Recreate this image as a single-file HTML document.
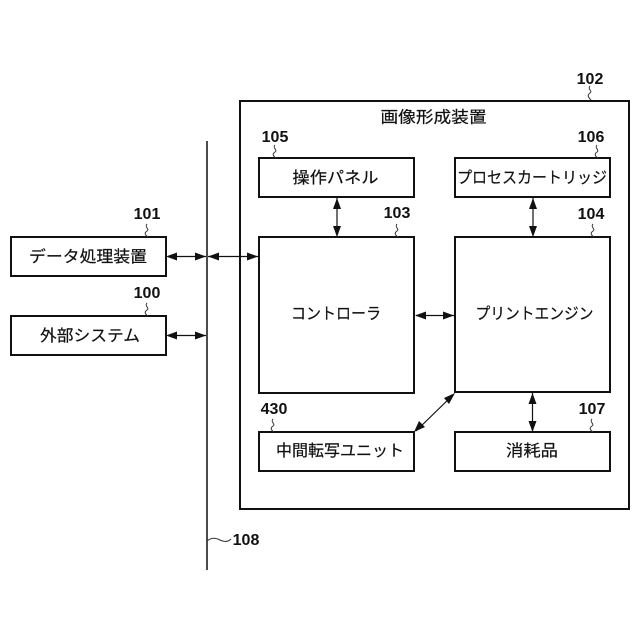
<!DOCTYPE html>
<html><head><meta charset="utf-8"><style>html,body{margin:0;padding:0;background:#fff;width:640px;height:640px;overflow:hidden}svg{display:block}
text.j{font-family:"Liberation Sans","Noto Sans CJK JP",sans-serif;font-size:16px;fill:#111;stroke:#111;stroke-width:.2;text-anchor:middle}
text.n{font-family:"Liberation Sans",sans-serif;font-size:16px;font-weight:bold;fill:#111;text-anchor:middle}
rect{fill:#fff;stroke:#111;stroke-width:2}
.l{stroke:#111;stroke-width:1.2;fill:none}.w{stroke:#333;stroke-width:1;fill:none}
polygon{fill:#111}</style></head><body>
<svg width="640" height="640" viewBox="0 0 640 640">
<rect x="240" y="101" width="389" height="408"/>
<rect x="11" y="237" width="155" height="39"/>
<rect x="11" y="316" width="155" height="39"/>
<rect x="259" y="158" width="155" height="39"/>
<rect x="455" y="158" width="155" height="39"/>
<rect x="259" y="237" width="155" height="156"/>
<rect x="455" y="237" width="155" height="155"/>
<rect x="259" y="432" width="155" height="39"/>
<rect x="455" y="432" width="155" height="39"/>
<path d="M207 141V570" stroke="#111" stroke-width="1.5" fill="none"/>

<path class="l" d="M168 256.500H206M208 256.500H258M168 335.500H206M337 198V236M533 198V236M416 315.500H454M532.500 393V431M416 431L454 394"/>
<polygon points="166,256.500 177,252.500 177,260.500"/><polygon points="206,256.500 195,252.500 195,260.500"/>
<polygon points="208,256.500 219,252.500 219,260.500"/><polygon points="258,256.500 247,252.500 247,260.500"/>
<polygon points="166,335.500 177,331.500 177,339.500"/><polygon points="206,335.500 195,331.500 195,339.500"/>
<polygon points="337,198 333,209 341,209"/><polygon points="337,237 333,226 341,226"/>
<polygon points="533,198 529,209 537,209"/><polygon points="533,237 529,226 537,226"/>
<polygon points="415,315.500 426,311.500 426,319.500"/><polygon points="454,315.500 443,311.500 443,319.500"/>
<polygon points="532.500,393 528.500,404 536.500,404"/><polygon points="532.500,432 528.500,421 536.500,421"/>
<polygon points="455,393 444,398 449,404"/><polygon points="414,432 419,421 425,427"/>

<path class="w" d="M147 224c-3 3 3 5 0 7s-2 4 1 6M147 303c-3 3 3 5 0 7s-2 4 1 6M590 86c-3 3 3 5 0 7s-2 4 1 7M275 145c-3 3 3 5 0 7s-2 4 1 6M597 145c-3 3 3 5 0 7s-2 4 1 6M397 224c-3 3 3 5 0 7s-2 4 1 6M593 224c-3 3 3 5 0 7s-2 4 1 6M273 419c-3 3 3 5 0 7s-2 4 1 6M592 419c-3 3 3 5 0 7s-2 4 1 6M207 541c5-4 9-3 13-1s8 2 11-1"/>

<text class="n" x="147" y="219">101</text>
<text class="n" x="147" y="298">100</text>
<text class="n" x="590" y="84">102</text>
<text class="n" x="397" y="218">103</text>
<text class="n" x="591" y="219">104</text>
<text class="n" x="275" y="142">105</text>
<text class="n" x="591" y="142">106</text>
<text class="n" x="592" y="414">107</text>
<text class="n" x="246" y="545">108</text>
<text class="n" x="274" y="414">430</text>

<text class="j" x="433.500" y="122.500" textLength="106" lengthAdjust="spacingAndGlyphs">画像形成装置</text>
<text class="j" x="88" y="262" textLength="118" lengthAdjust="spacingAndGlyphs">データ処理装置</text>
<text class="j" x="90" y="341" textLength="100" lengthAdjust="spacingAndGlyphs">外部システム</text>
<text class="j" x="335.500" y="183" textLength="86" lengthAdjust="spacingAndGlyphs">操作パネル</text>
<text class="j" x="532" y="183" textLength="150" lengthAdjust="spacingAndGlyphs">プロセスカートリッジ</text>
<text class="j" x="336" y="319" textLength="90" lengthAdjust="spacingAndGlyphs">コントローラ</text>
<text class="j" x="534.500" y="319" textLength="118" lengthAdjust="spacingAndGlyphs">プリントエンジン</text>
<text class="j" x="340" y="456" textLength="128" lengthAdjust="spacingAndGlyphs">中間転写ユニット</text>
<text class="j" x="532" y="456" textLength="52" lengthAdjust="spacingAndGlyphs">消耗品</text>
</svg></body></html>
